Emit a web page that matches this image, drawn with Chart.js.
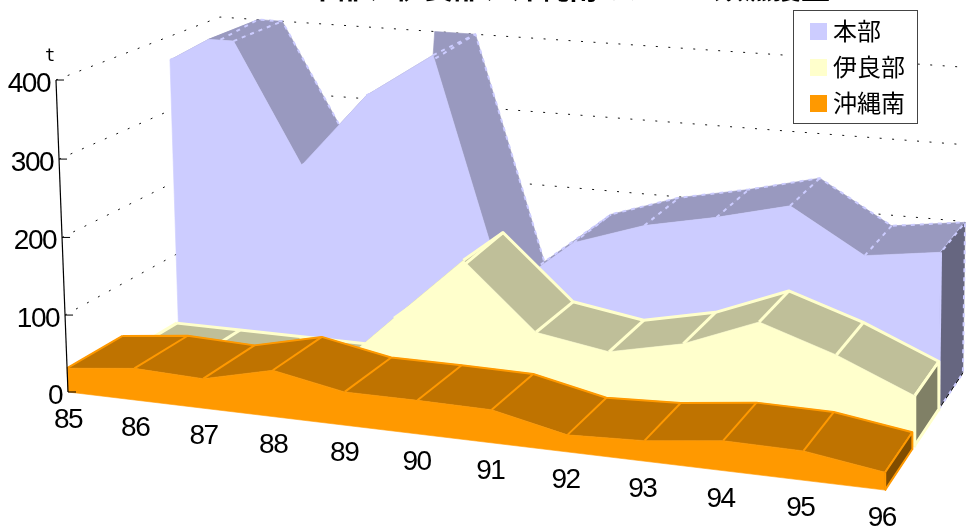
<!DOCTYPE html>
<html lang="ja">
<head>
<meta charset="utf-8">
<title>カツオ類漁獲量</title>
<style>
  html, body { margin: 0; padding: 0; background: #fff; }
  canvas { display: block; }
</style>
<script src="https://cdn.jsdelivr.net/npm/chart.js@4"></script>
</head>
<body>
<canvas id="chart" width="970" height="527"></canvas>
<script>
// Catch by port and year, in tonnes.
const years = ['85','86','87','88','89','90','91','92','93','94','95','96'];
const motobu = [368, 420, 239, 340, 400, 94, 168, 199, 218, 241, 186, 199];
const irabu = [5, 5, 5, 5, 90, 174, 91, 76, 96, 133, 102, 62];
const okinawaSouth = [31, 41, 38, 59, 42, 42, 41, 21, 25, 36, 35, 21];
const valueTicks = [0, 100, 200, 300, 400];
const seriesNames = ['本部', '伊良部', '沖縄南'];
const titleText = '本部、伊良部、沖縄南のカツオ類漁獲量';
const axisLimit = 400;

// Perspective camera: vanishing points and weights for year, value and depth.
const vpYear = [-7245, -486], vpValue = [717, 17250], vpDepth = [1535, -488], origin = [68, 392];
const wYear = -0.009136, wValue = -0.01817, wDepth = 0.1224;

function project(t, v, d) {
  const a = t * wYear, b = (v / axisLimit) * wValue, c = d * wDepth;
  const w = 1 + a + b + c;
  return {
    x: (origin[0] + a * vpYear[0] + b * vpValue[0] + c * vpDepth[0]) / w,
    y: (origin[1] + a * vpYear[1] + b * vpValue[1] + c * vpDepth[1]) / w
  };
}

// Values above the axis limit are cut off: a rising segment gets a vertex where
// it reaches the limit, and the falling side leaves from the capped year.
function capped(values) {
  const out = [];
  values.forEach((v, i) => {
    if (i > 0 && values[i - 1] < axisLimit && v > axisLimit) {
      out.push([i - 1 + (axisLimit - values[i - 1]) / (v - values[i - 1]), axisLimit]);
    }
    out.push([i, Math.min(v, axisLimit)]);
  });
  return out;
}

const datasets = [];
function polygon(points, color, edge) {
  datasets.push({
    data: points.concat([points[0]]), showLine: true, pointRadius: 0, tension: 0,
    fill: 'shape', backgroundColor: color, borderColor: edge || color,
    borderWidth: edge ? 2 : 0.6, borderJoinStyle: 'round'
  });
}
function stroke(points, color, width, dash) {
  datasets.push({
    data: points, showLine: true, pointRadius: 0, tension: 0, fill: false,
    borderColor: color, borderWidth: width, borderDash: dash || [], borderJoinStyle: 'round'
  });
}

function ribbon(values, style) {
  const line = capped(values);
  const [df, db] = style.depth;
  const last = values.length - 1;
  const top = Math.min(values[last], axisLimit);

  // Upper surface, one quad per segment
  for (let i = 0; i + 1 < line.length; i++) {
    const [t0, v0] = line[i], [t1, v1] = line[i + 1];
    polygon([project(t0, v0, df), project(t1, v1, df), project(t1, v1, db), project(t0, v0, db)], style.top);
  }
  (style.openings || []).forEach(([from, to]) => {
    polygon([project(from, axisLimit, db), project(to, axisLimit, db), project(to, axisLimit, df)], style.top);
  });
  // Year dividers and the rear edge
  line.forEach(([t, v]) => {
    if (Number.isInteger(t)) stroke([project(t, v, df), project(t, v, db)], style.edge, style.edgeWidth, style.dash);
  });
  stroke(line.map(([t, v]) => project(t, v, db)), style.edge, style.edgeWidth, style.dash);

  // Front wall
  const front = line.map(([t, v]) => project(t, v, df));
  front.push(project(last, 0, df), project(0, 0, df));
  polygon(front, style.color);

  // End cap at the last year
  polygon([project(last, 0, df), project(last, top, df), project(last, top, db), project(last, 0, db)], style.side);
  if (style.floorLine) stroke([project(last, 0, df), project(last, 0, db)], style.floorLine, 1);
  stroke([project(last, 0, df), project(last, 0, db), project(last, top, db), project(last, top, df)],
    style.edge, style.edgeWidth, style.dash);
  stroke([project(last, 0, df), project(last, top, df)], style.color, style.edgeWidth);
}

// Dotted guides on the left and rear walls
valueTicks.filter(v => v > 0).forEach(v => {
  stroke([project(0, v, 0), project(0, v, 1), project(years.length - 1, v, 1)], '#111', 1, [2, 10.5]);
});

ribbon(motobu, {
  depth: [0.665, 1], color: '#CCCCFF', top: '#9999BF', side: '#666680',
  edge: '#CCCCFF', edgeWidth: 2, dash: [4, 5], floorLine: '#111', openings: [[3.38, 4]]
});
ribbon(irabu, {
  depth: [0.345, 0.655], color: '#FFFFCC', top: '#BFBF99', side: '#808066',
  edge: '#FFFFCC', edgeWidth: 3
});
ribbon(okinawaSouth, {
  depth: [0, 0.32], color: '#FF9900', top: '#BF7300', side: '#804D00',
  edge: '#FF9900', edgeWidth: 2
});

// Value axis and its ticks
stroke([project(0, 0, 0), project(0, axisLimit, 0)], '#000', 1.2);
valueTicks.forEach(v => {
  const p = project(0, v, 0);
  stroke([p, { x: p.x + 8, y: p.y }], '#000', 1);
});

// Later entries paint over earlier ones
datasets.forEach((d, i) => { d.order = datasets.length - i; });

const legendColors = ['#CCCCFF', '#FFFFCC', '#FF9900'];

const annotations = {
  id: 'annotations',
  afterDatasetsDraw(chart) {
    const { ctx, scales: { x, y } } = chart;
    const px = p => [x.getPixelForValue(p.x), y.getPixelForValue(p.y)];
    ctx.save();
    ctx.fillStyle = '#000';
    ctx.textBaseline = 'alphabetic';

    // Clipped heading at the top edge
    ctx.font = 'bold 29px "Noto Sans CJK JP"';
    ctx.textAlign = 'center';
    ctx.fillText(titleText, 569, -1);

    // Value labels
    ctx.font = '28px "Liberation Sans"';
    ctx.letterSpacing = '-1.5px';
    ctx.textAlign = 'right';
    valueTicks.forEach(v => {
      const [a, b] = px(project(0, v, 0));
      ctx.fillText(String(v), a - 6, b + 12);
    });

    // Year labels below the front edge
    ctx.textAlign = 'center';
    years.forEach((label, i) => {
      const [a, b] = px(project(i, 0, 0));
      ctx.fillText(label, a - i * 0.3, b + 36);
    });
    ctx.letterSpacing = '0px';

    // Unit
    ctx.font = '17px "DejaVu Sans Mono"';
    ctx.textAlign = 'center';
    ctx.fillText('t', 50, 61);

    // Legend
    ctx.fillStyle = '#fff';
    ctx.fillRect(793, 10, 125, 114);
    ctx.strokeStyle = '#444';
    ctx.lineWidth = 1;
    ctx.strokeRect(793.5, 10.5, 124, 113);
    ctx.font = '24px "Noto Sans CJK JP"';
    ctx.textAlign = 'left';
    seriesNames.forEach((name, i) => {
      const row = 31 + i * 36;
      ctx.fillStyle = legendColors[i];
      ctx.fillRect(810, row - 8, 17, 17);
      ctx.fillStyle = '#000';
      ctx.fillText(name, 833, row + 9);
    });
    ctx.restore();
  }
};

new Chart(document.getElementById('chart'), {
  type: 'scatter',
  data: { datasets },
  options: {
    responsive: false,
    animation: false,
    layout: { padding: 0 },
    plugins: { legend: { display: false }, tooltip: { enabled: false } },
    scales: {
      x: { type: 'linear', min: 0, max: 970, display: false },
      y: { type: 'linear', min: 0, max: 527, reverse: true, display: false }
    }
  },
  plugins: [annotations]
});
</script>
</body>
</html>
